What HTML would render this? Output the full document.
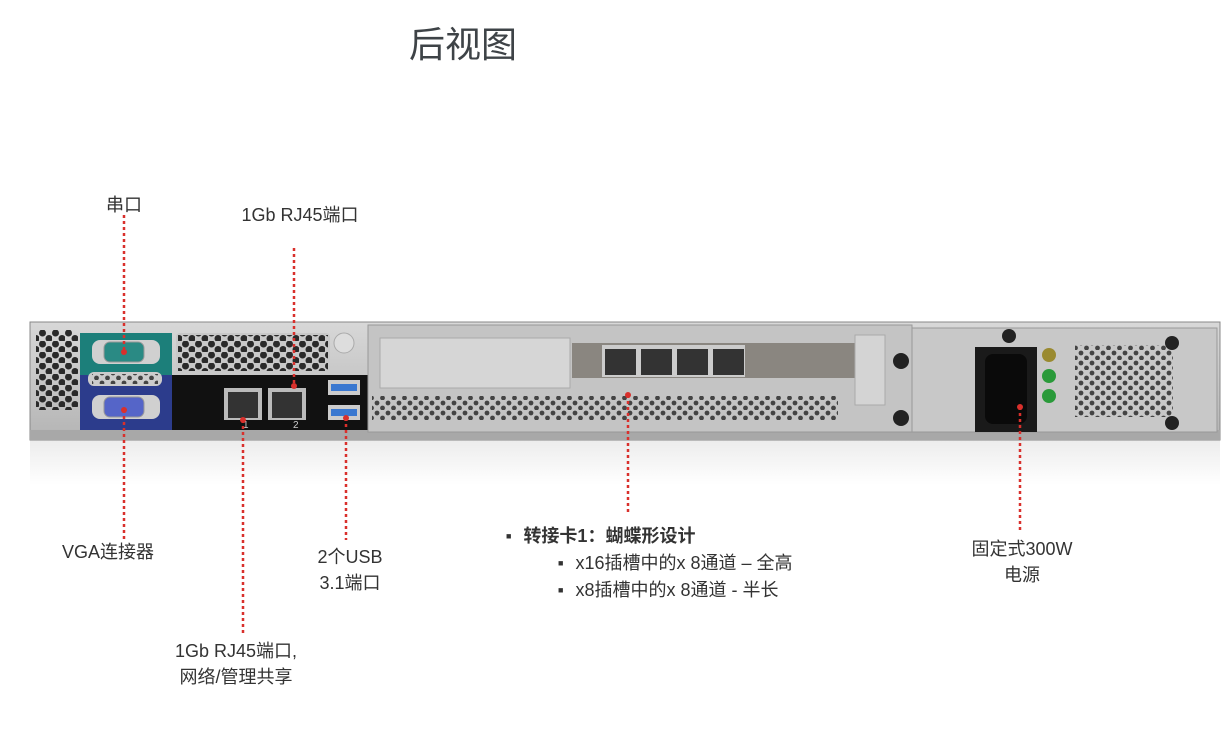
<!DOCTYPE html>
<html><head><meta charset="utf-8"><style>
body{margin:0;background:#fff;width:1222px;height:750px;overflow:hidden;font-family:"Liberation Sans","Noto Sans CJK SC",sans-serif;color:#3a3f44}
.t{position:absolute;font-size:18px;white-space:nowrap;text-align:center;line-height:26px;color:#333}
</style></head><body>
<svg width="1222" height="750" style="position:absolute;left:0;top:0">
<defs>
<pattern id="hex" width="13" height="11" patternUnits="userSpaceOnUse"><circle cx="3.5" cy="3" r="3.5" fill="#2a2a2a"/><circle cx="10" cy="8.5" r="3.5" fill="#2a2a2a"/></pattern>
<pattern id="hexs" width="11" height="10" patternUnits="userSpaceOnUse"><circle cx="3" cy="3" r="2.4" fill="#444"/><circle cx="8.5" cy="8" r="2.4" fill="#444"/></pattern>
<linearGradient id="ch" x1="0" y1="0" x2="0" y2="1"><stop offset="0" stop-color="#d8d8d8"/><stop offset="1" stop-color="#b4b4b4"/></linearGradient>
<linearGradient id="refl" x1="0" y1="0" x2="0" y2="1"><stop offset="0" stop-color="#ececec"/><stop offset="1" stop-color="#fff"/></linearGradient>
</defs>
<rect x="30" y="440" width="1190" height="45" fill="url(#refl)"/>
<rect x="30" y="322" width="1190" height="118" fill="url(#ch)" stroke="#888"/>
<rect x="30" y="430" width="1190" height="10" fill="#a8a8a8"/>
<rect x="36" y="330" width="42" height="80" fill="url(#hex)"/>
<rect x="80" y="333" width="92" height="42" fill="#1c7f7a"/>
<rect x="80" y="375" width="92" height="55" fill="#2c3c8c"/>
<rect x="92" y="340" width="68" height="24" rx="8" fill="#d0d0d0"/>
<rect x="104" y="342" width="40" height="20" rx="6" fill="#2a8a84" stroke="#999"/>
<rect x="88" y="372" width="74" height="14" rx="6" fill="#ccc"/>
<rect x="92" y="374" width="66" height="10" fill="url(#hexs)"/>
<rect x="92" y="395" width="68" height="24" rx="8" fill="#d0d0d0"/>
<rect x="104" y="397" width="40" height="20" rx="6" fill="#5565c8" stroke="#999"/>
<rect x="176" y="333" width="154" height="40" rx="4" fill="#c8c8c8"/>
<rect x="178" y="335" width="150" height="36" fill="url(#hex)"/>
<circle cx="344" cy="343" r="10" fill="#ddd" stroke="#aaa"/>
<rect x="172" y="375" width="196" height="55" fill="#111"/>
<rect x="224" y="388" width="38" height="32" fill="#bbb"/><rect x="228" y="392" width="30" height="26" fill="#333"/>
<rect x="268" y="388" width="38" height="32" fill="#bbb"/><rect x="272" y="392" width="30" height="26" fill="#333"/>
<rect x="328" y="380" width="32" height="15" fill="#ccc"/><rect x="331" y="384" width="26" height="7" fill="#3a78d0"/>
<rect x="328" y="405" width="32" height="15" fill="#ccc"/><rect x="331" y="409" width="26" height="7" fill="#3a78d0"/>
<text x="243" y="428" font-size="10" fill="#ccc" font-family="Liberation Sans">1</text>
<text x="293" y="428" font-size="10" fill="#ccc" font-family="Liberation Sans">2</text>
<rect x="368" y="325" width="544" height="107" fill="#c4c4c4" stroke="#999"/>
<rect x="380" y="338" width="190" height="50" fill="#d6d6d6" stroke="#aaa"/>
<rect x="572" y="343" width="283" height="35" fill="#8a8680"/>
<rect x="602" y="345" width="143" height="32" fill="#ccc"/>
<g fill="#333"><rect x="605" y="349" width="31" height="26"/><rect x="641" y="349" width="31" height="26"/><rect x="677" y="349" width="31" height="26"/><rect x="713" y="349" width="31" height="26"/></g>
<rect x="855" y="335" width="30" height="70" fill="#d4d4d4" stroke="#aaa"/>
<circle cx="901" cy="361" r="8" fill="#222"/><circle cx="901" cy="418" r="8" fill="#222"/>
<rect x="372" y="396" width="466" height="24" fill="url(#hexs)"/>
<rect x="912" y="328" width="305" height="104" fill="#c8c8c8" stroke="#999"/>
<rect x="975" y="347" width="62" height="85" fill="#1a1a1a"/>
<rect x="985" y="354" width="42" height="70" rx="8" fill="#0a0a0a"/>
<circle cx="1049" cy="355" r="7" fill="#9a8a30"/><circle cx="1049" cy="376" r="7" fill="#2a9a3a"/><circle cx="1049" cy="396" r="7" fill="#2a9a3a"/>
<rect x="1075" y="345" width="98" height="72" fill="url(#hexs)"/>
<circle cx="1009" cy="336" r="7" fill="#222"/><circle cx="1172" cy="343" r="7" fill="#222"/><circle cx="1172" cy="423" r="7" fill="#222"/>
<g stroke="#d9302c" stroke-width="2.5" stroke-dasharray="3,3">
<line x1="124" y1="215" x2="124" y2="352"/>
<line x1="294" y1="248" x2="294" y2="385"/>
<line x1="124" y1="410" x2="124" y2="540"/>
<line x1="243" y1="420" x2="243" y2="636"/>
<line x1="346" y1="418" x2="346" y2="540"/>
<line x1="628" y1="395" x2="628" y2="515"/>
<line x1="1020" y1="407" x2="1020" y2="532"/>
</g>
<g fill="#d9302c"><circle cx="124" cy="352" r="3"/><circle cx="294" cy="386" r="3"/><circle cx="124" cy="410" r="3"/><circle cx="243" cy="420" r="3"/><circle cx="346" cy="418" r="3"/><circle cx="628" cy="395" r="3"/><circle cx="1020" cy="407" r="3"/></g>
</svg>
<div class="t" style="left:363px;top:22px;width:200px;font-size:36px;line-height:46px;color:#3e4347">后视图</div>
<div class="t" style="left:74px;top:192px;width:100px">串口</div>
<div class="t" style="left:200px;top:202px;width:200px">1Gb RJ45端口</div>
<div class="t" style="left:38px;top:539px;width:140px">VGA连接器</div>
<div class="t" style="left:280px;top:544px;width:140px">2个USB<br>3.1端口</div>
<div class="t" style="left:136px;top:638px;width:200px">1Gb RJ45端口,<br>网络/管理共享</div>
<div class="t" style="left:942px;top:536px;width:160px">固定式300W<br>电源</div>
<div class="t" style="left:506px;top:523px;text-align:left;line-height:27px">
<div><span style="font-size:9px;vertical-align:3px;margin-right:12px">■</span><b>转接卡1：蝴蝶形设计</b></div>
<div style="padding-left:52px"><span style="font-size:9px;vertical-align:3px;margin-right:12px">■</span>x16插槽中的x 8通道 – 全高</div>
<div style="padding-left:52px"><span style="font-size:9px;vertical-align:3px;margin-right:12px">■</span>x8插槽中的x 8通道 - 半长</div>
</div>
</body></html>
